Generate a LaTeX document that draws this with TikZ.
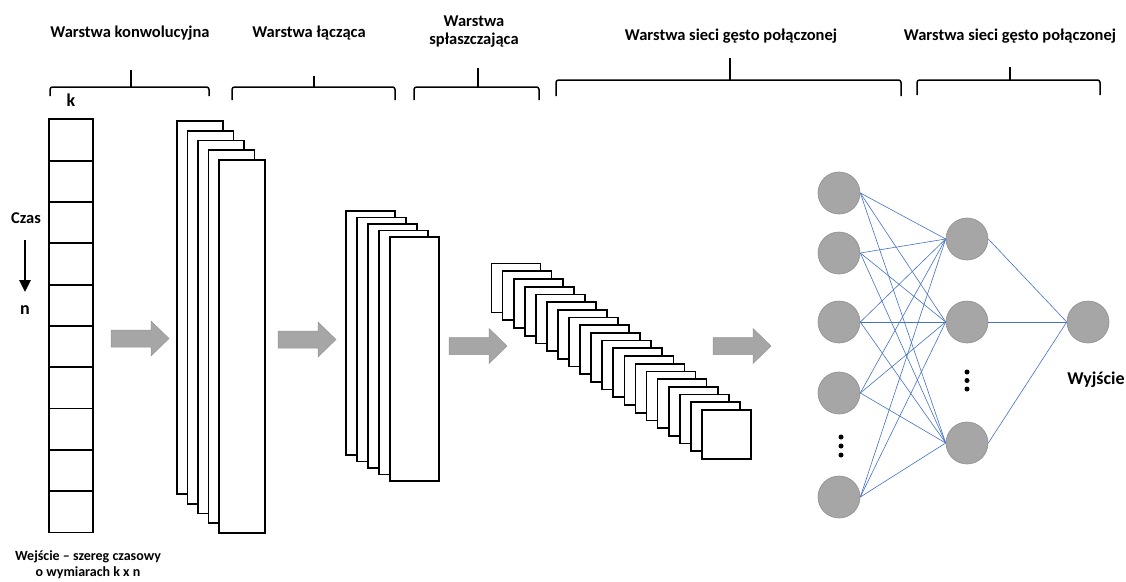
\documentclass[tikz,border=0pt]{standalone}
\usepackage{fontspec}
\setmainfont{Carlito}
\usetikzlibrary{arrows.meta}

\definecolor{neurongray}{HTML}{A6A6A6}
\definecolor{neuronedge}{HTML}{8E8E8E}
\definecolor{linkblue}{HTML}{4472C4}
\definecolor{flowgray}{HTML}{A6A6A6}
\definecolor{flowedge}{HTML}{959595}

\tikzset{
  blockarrow/.pic={
    \draw[fill=flowgray, draw=flowedge, line width=0.5pt]
      (0,-8.5) -- (40,-8.5) -- (40,-17.5) -- (58,0) -- (40,17.5) -- (40,8.5) -- (0,8.5) -- cycle;
  }
}

\begin{document}
\begin{tikzpicture}[x=1pt, y=-1pt,
  title/.style={font=\bfseries\fontsize{16.5}{18}\selectfont, inner sep=0pt},
  note/.style={font=\bfseries\fontsize{14}{16}\selectfont, inner sep=0pt, align=center},
  brace/.style={line width=1.5pt, rounded corners=2.5pt},
  tick/.style={line width=1.5pt},
  cell/.style={draw, line width=1.7pt, fill=white, inner sep=0pt,
               minimum width=44pt, minimum height=41.33pt},
  sheet/.style={draw, line width=1.7pt, fill=white, inner sep=0pt, anchor=north west},
  neuron/.style={circle, fill=neurongray, draw=neuronedge, line width=0.6pt,
                 minimum size=42pt, inner sep=0pt},
  link/.style={draw=linkblue, line width=0.6pt},
  dot/.style={circle, fill=black, inner sep=0pt, minimum size=5pt},
  timearrow/.style={line width=2.8pt, -{Triangle[length=12pt, width=11pt]}},
]

% canvas
\useasboundingbox (0,0) rectangle (1126,581);
\fill[white] (0,0) rectangle (1126,581);

% layer titles
\node[title, anchor=base] (t1) at (130,37.5) {Warstwa konwolucyjna};
\node[title, anchor=base] (t2) at (309,37.5) {Warstwa łącząca};
\node[title, align=center] (t3) at (474,32) {Warstwa\\spłaszczająca};
\node[title, anchor=base] (t4) at (731,40) {Warstwa sieci gęsto połączonej};
\node[title, anchor=base] (t5) at (1010,40) {Warstwa sieci gęsto połączonej};

% braces under the titles
\draw[brace] (50,96) -- (50,87) -- (209,87) -- (209,96);
\draw[tick] (131,87) -- (131,70);
\draw[brace] (232,100) -- (232,87) -- (395,87) -- (395,100);
\draw[tick] (314,87) -- (314,76);
\draw[brace] (414,100) -- (414,87) -- (539,87) -- (539,100);
\draw[tick] (478,87) -- (478,68);
\draw[brace] (556,96) -- (556,80) -- (901,80) -- (901,96);
\draw[tick] (730,80) -- (730,58);
\draw[brace] (917,95) -- (917,80) -- (1100,80) -- (1100,95);
\draw[tick] (1010,80) -- (1010,67);

% input time series k x n
\foreach \i in {1,...,10}
  \node[cell] (in\i) at (71,{119.33+41.33*(\i-0.5)}) {};
\node[title, font=\bfseries\fontsize{18}{20}\selectfont] (k) at (71,100) {k};
\node[title] (czas) at (26,218) {Czas};
\node[title, font=\bfseries\fontsize{18}{20}\selectfont] (n) at (25,310) {n};
\coordinate (tstart) at (25,240);
\coordinate (tend) at (25,292);
\draw[timearrow] (tstart) -- (tend);
\node[note] (inlabel) at (88,565) {Wejście – szereg czasowy\\o wymiarach k x n};

% convolution feature maps
\foreach \i in {0,...,4}
  \node[sheet, minimum width=46pt, minimum height=373pt] (conv\i)
    at ({176+10.5*\i},{120+9.8*\i}) {};

% pooling feature maps
\foreach \i in {0,...,4}
  \node[sheet, minimum width=49pt, minimum height=244pt] (pool\i)
    at ({345+11*\i},{210+6.5*\i}) {};

% flattened maps
\foreach \i in {0,...,19}
  \node[sheet, minimum width=49pt, minimum height=49pt] (flat\i)
    at ({490.7+11.07*\i},{262.7+7.7*\i}) {};

% flow arrows between stages
\pic at (111,338.5) {blockarrow};
\pic at (278,339.5) {blockarrow};
\pic at (449,346) {blockarrow};
\pic at (713,346) {blockarrow};

% dense network
\node[neuron] (x1) at (839,193) {};
\node[neuron] (x2) at (839,253) {};
\node[neuron] (x3) at (839,322) {};
\node[neuron] (x4) at (839,393) {};
\node[neuron] (x5) at (839,497) {};
\node[neuron] (h1) at (967,239) {};
\node[neuron] (h2) at (967,322) {};
\node[neuron] (h3) at (967,443) {};
\node[neuron] (out) at (1088,322) {};

\foreach \a in {1,...,5}
  \foreach \b in {1,2,3}
    \draw[link] (x\a.east) -- (h\b.west);
\foreach \b in {1,2,3}
  \draw[link] (h\b.east) -- (out.west);

\node[dot] (xd1) at (841,437) {};
\node[dot] (xd2) at (841,446) {};
\node[dot] (xd3) at (841,455) {};
\node[dot] (hd1) at (967,372) {};
\node[dot] (hd2) at (967,380.5) {};
\node[dot] (hd3) at (967,389) {};

\node[title, font=\bfseries\fontsize{18}{20}\selectfont] (wy) at (1096,380) {Wyjście};

\end{tikzpicture}
\end{document}
